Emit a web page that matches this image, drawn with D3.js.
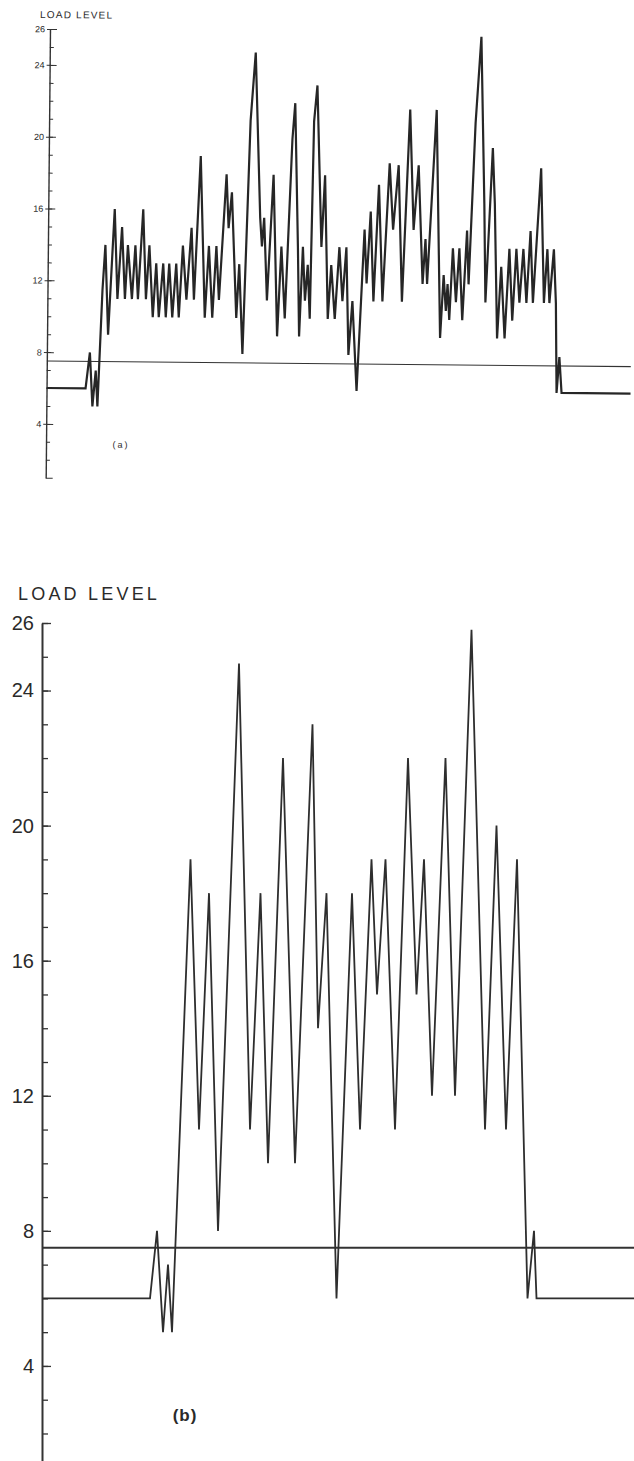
<!DOCTYPE html>
<html>
<head>
<meta charset="utf-8">
<script src="https://cdn.jsdelivr.net/npm/d3@7"></script>
<style>
  body { margin: 0; background: #fff; }
  svg { display: block; }
  text { font-family: "Liberation Sans", Arial, sans-serif; fill: #2a2a2a; }
</style>
</head>
<body>
<svg id="chart" width="634" height="1461"></svg>
<script>
// (a) full load sequence: time (arbitrary units) and load level
const aTime = [0, 7.8, 8.6, 9.2, 9.8, 10.2, 11.0, 11.5, 12.2, 13.3,
  14.0, 14.8, 15.5, 16.0, 16.9, 17.5, 18.1, 19.0, 19.7, 20.3,
  21.1, 21.7, 22.3, 23.1, 23.7, 24.3, 25.0, 25.7, 26.3, 27.0,
  27.8, 28.7, 29.3, 30.4, 31.5, 32.2, 33.0, 33.7, 34.3, 35.6,
  36.1, 36.7, 37.8, 38.3, 39.1, 40.3, 41.2, 42.4, 42.8, 43.2,
  43.9, 45.0, 46.0, 46.7, 47.5, 48.7, 49.2, 50.0, 50.4, 51.0,
  51.5, 52.0, 52.5, 53.0, 53.6, 54.7, 55.3, 56.1, 56.7, 57.5,
  58.3, 59.0, 59.7, 60.3, 61.0, 62.0, 63.3, 63.8, 64.5, 65.2,
  66.1, 67.0, 68.2, 69.0, 70.0, 70.9, 72.2, 73.1, 74.0, 75.0,
  75.5, 75.9, 77.5, 78.6, 79.2, 79.7, 80.0, 80.4, 81.0, 81.7,
  82.3, 83.0, 83.8, 84.2, 85.3, 86.3, 87.2, 87.6, 88.8, 89.3,
  90.0, 90.7, 91.5, 92.3, 93.0, 93.7, 94.4, 95.1, 95.8, 96.5,
  97.1, 98.5, 99.3, 99.9, 100.4, 101.2, 101.7, 102.0, 102.5, 103.0,
  116.8]
const aLoad = [6, 6, 8, 5, 7, 5, 11.5, 14, 9, 16,
  11, 15, 11, 14, 11, 14, 11, 16, 11, 14,
  10, 13, 10, 13, 10, 13, 10, 13, 10, 14,
  11, 15, 11, 19, 10, 14, 10, 14, 11, 18,
  15, 17, 10, 13, 8, 21, 24.8, 15.6, 14, 15.6,
  11, 18, 9, 14, 10, 20, 22, 14, 9, 14,
  11, 13, 10, 21, 23, 14, 18, 10, 13, 10,
  14, 11, 14, 8, 11, 6, 15, 12, 16, 11,
  17.5, 11, 18.7, 15, 18.6, 11, 21.7, 15, 18.6, 12,
  14.5, 12, 21.7, 9, 12.5, 10.5, 12, 10, 14, 11,
  14, 10, 15, 12, 21, 25.8, 16.5, 11, 19.6, 16.5,
  9, 13, 9, 14, 10, 14, 11, 14, 11, 15,
  11, 18.5, 11, 14, 11, 14, 11, 6, 8, 6,
  6]

// (b) reduced sequence (peaks and troughs)
const bTime = [0, 21.6, 23.0, 24.2, 25.2, 26.0, 29.7, 31.4, 33.4, 35.2,
  39.4, 41.6, 43.7, 45.2, 48.2, 50.6, 54.1, 55.2, 56.9, 58.9,
  62.0, 63.6, 65.9, 67.0, 68.7, 70.6, 73.2, 74.9, 76.4, 78.0,
  80.7, 82.6, 85.9, 88.6, 90.9, 92.8, 95.0, 97.1, 98.4, 98.9,
  118.4]
const bLoad = [6, 6, 8, 5, 7, 5, 19, 11, 18, 8,
  24.8, 11, 18, 10, 22, 10, 23, 14, 18, 6,
  18, 11, 19, 15, 19, 11, 22, 15, 19, 12,
  22, 12, 25.8, 11, 20, 11, 19, 6, 8, 6,
  6]

const refLevel = 7.5
const majorTicks = [4, 8, 12, 16, 20, 24, 26]
const minorTicks = d3.range(1, 27)

const W = 634
const svg = d3.select("#chart")

function drawPanel(p){
  const g = svg.append("g").attr("transform", p.rotate ? `rotate(${p.rotate},${p.left},${p.top})` : null)

  const x = d3.scaleLinear().domain([0, p.tMax]).range([p.left, W])
  const y = d3.scaleLinear().domain([1, 26]).range([p.top + 25 * p.unit, p.top])

  // minor ticks, one per level
  const minor = g.append("g")
      .attr("transform", `translate(${p.left},0)`)
      .call(d3.axisLeft(y).tickValues(minorTicks).tickSize(-p.minorLen).tickFormat(""))
  minor.select(".domain").remove()
  minor.selectAll(".tick line").attr("stroke", "#333").attr("stroke-width", p.tickW)
  minor.selectAll(".tick").filter(d => d === 1).select("line").attr("x2", p.majorLen)

  // major ticks with labels
  const major = g.append("g")
      .attr("transform", `translate(${p.left},0)`)
      .call(d3.axisLeft(y).tickValues(majorTicks).tickSizeInner(-p.majorLen).tickSizeOuter(0).tickPadding(p.pad))
  major.select(".domain").attr("stroke", "#333").attr("stroke-width", p.axisW)
  major.selectAll(".tick line").attr("stroke", "#333").attr("stroke-width", p.tickW).attr("x1", p.cross)
  major.selectAll(".tick text")
      .attr("font-size", p.fontSize)
      .attr("font-family", "Liberation Sans, Arial, sans-serif")
      .attr("fill", "#2a2a2a")

  // reference level
  g.append("line")
      .attr("x1", x(0)).attr("x2", W)
      .attr("y1", y(refLevel)).attr("y2", y(refLevel))
      .attr("stroke", "#333").attr("stroke-width", p.refW)

  const line = d3.line().x(d => x(d[0])).y(d => y(d[1]))
  g.append("path")
      .datum(d3.zip(p.time, p.load))
      .attr("fill", "none")
      .attr("stroke", p.lineColor)
      .attr("stroke-width", p.lineW)
      .attr("stroke-linejoin", "miter")
      .attr("d", line)

  g.append("text")
      .attr("x", p.titleX).attr("y", p.titleY)
      .attr("font-size", p.titleSize)
      .attr("letter-spacing", p.titleSpacing)
      .text("LOAD LEVEL")

  g.append("text")
      .attr("x", p.tagX).attr("y", p.tagY)
      .attr("text-anchor", "middle")
      .attr("font-size", p.tagSize)
      .attr("font-weight", p.tagWeight)
      .attr("letter-spacing", p.tagSpacing)
      .text(p.tag)
}

drawPanel({
  time: aTime, load: aLoad, tMax: 116.8,
  left: 50, top: 29, unit: 17.95, rotate: 0.55,
  minorLen: 4, majorLen: 7, cross: -3, pad: 5,
  axisW: 1.4, tickW: 1, refW: 1.1, lineW: 2.2, lineColor: "#262626",
  fontSize: 9,
  titleX: 40, titleY: 18, titleSize: 10, titleSpacing: 1.2,
  tag: "(a)", tagX: 125, tagY: 447, tagSize: 9, tagWeight: "normal", tagSpacing: 2
})

drawPanel({
  time: bTime, load: bLoad, tMax: 118.4,
  left: 42, top: 623, unit: 33.77, rotate: 0,
  minorLen: 6, majorLen: 9, cross: 0, pad: 8,
  axisW: 2, tickW: 1.3, refW: 1.8, lineW: 1.8, lineColor: "#2e2e2e",
  fontSize: 20,
  titleX: 18, titleY: 600, titleSize: 18, titleSpacing: 3.2,
  tag: "(b)", tagX: 185, tagY: 1421, tagSize: 17, tagWeight: "bold", tagSpacing: 1
})
</script>
</body>
</html>
